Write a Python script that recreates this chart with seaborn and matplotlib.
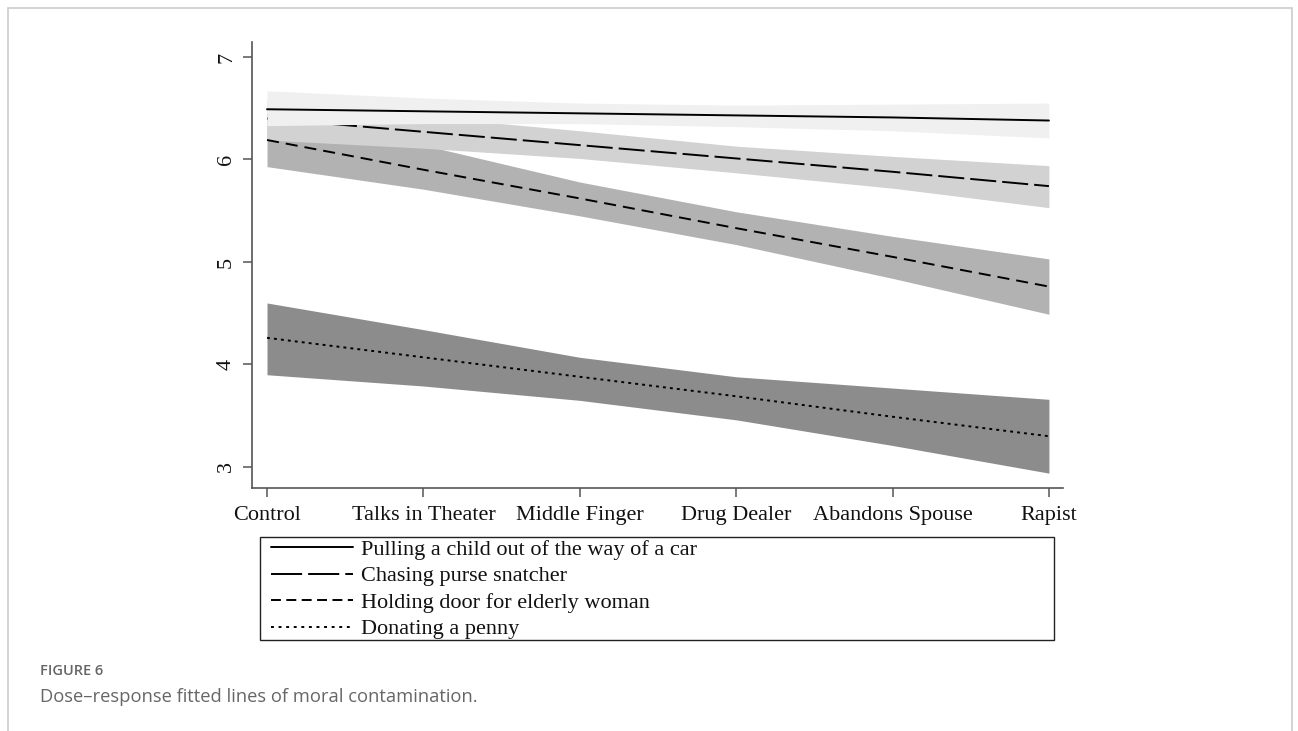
import matplotlib
matplotlib.use("Agg")
import matplotlib.pyplot as plt
from matplotlib.lines import Line2D
from matplotlib.patches import Rectangle
import pandas as pd
import seaborn as sns

# Offender conditions on the x axis
categories = ["Control", "Talks in Theater", "Middle Finger",
              "Drug Dealer", "Abandons Spouse", "Rapist"]
yticks = [3, 4, 5, 6, 7]

# Fitted values with lower / upper confidence limits per good deed
pulling_fit = [6.49, 6.47, 6.45, 6.43, 6.41, 6.38]
pulling_lo = [6.33, 6.35, 6.35, 6.32, 6.28, 6.21]
pulling_hi = [6.67, 6.60, 6.55, 6.53, 6.54, 6.55]

chasing_fit = [6.40, 6.27, 6.14, 6.01, 5.88, 5.74]
chasing_lo = [6.19, 6.11, 6.01, 5.87, 5.72, 5.53]
chasing_hi = [6.58, 6.42, 6.28, 6.13, 6.03, 5.94]

holding_fit = [6.19, 5.90, 5.62, 5.33, 5.05, 4.76]
holding_lo = [5.93, 5.71, 5.45, 5.17, 4.84, 4.49]
holding_hi = [6.45, 6.14, 5.78, 5.49, 5.25, 5.03]

penny_fit = [4.26, 4.07, 3.88, 3.69, 3.49, 3.30]
penny_lo = [3.90, 3.79, 3.65, 3.46, 3.21, 2.94]
penny_hi = [4.60, 4.34, 4.07, 3.88, 3.77, 3.66]

labels = ["Pulling a child out of the way of a car",
          "Chasing purse snatcher",
          "Holding door for elderly woman",
          "Donating a penny"]

rows = []
for lab, fit, lo, hi in zip(labels,
                            [pulling_fit, chasing_fit, holding_fit, penny_fit],
                            [pulling_lo, chasing_lo, holding_lo, penny_lo],
                            [pulling_hi, chasing_hi, holding_hi, penny_hi]):
    for i, cat in enumerate(categories):
        rows.append({"behavior": lab, "pos": i, "condition": cat,
                     "fit": fit[i], "lo": lo[i], "hi": hi[i]})
df = pd.DataFrame(rows)

sns.set_style("ticks")
plt.rcParams["font.family"] = ["Liberation Serif", "DejaVu Serif"]

LW = 1.4
styles = {
    labels[0]: dict(band="#f0f0f0", ls="-", band_z=5, line_z=6),
    labels[1]: dict(band="#d2d2d2", ls=(0, (13.4, 3.1)), band_z=3, line_z=4),
    labels[2]: dict(band="#b2b2b2", ls=(0, (6.2, 3.6)), band_z=2, line_z=6.5),
    labels[3]: dict(band="#8c8c8c", ls=(0, (1.5, 2.1)), band_z=1, line_z=1.5),
}

fig = plt.figure(figsize=(12.98, 7.31), dpi=100)
ax = fig.add_axes([252 / 1298, 1 - 488 / 731, 811 / 1298, 446 / 731])

# bands drawn from the lowest series upward, each fitted line with its band
for lab in [labels[3], labels[2], labels[1], labels[0]]:
    sub = df[df["behavior"] == lab]
    st = styles[lab]
    ax.fill_between(sub["pos"], sub["lo"], sub["hi"], color=st["band"],
                    linewidth=0, zorder=st["band_z"])
    sns.lineplot(data=sub, x="pos", y="fit", ax=ax, color="black",
                 linewidth=LW, linestyle=st["ls"], legend=False)
    ax.lines[-1].set_zorder(st["line_z"])

ax.set_xlim(-0.096, 5.09)
ax.set_ylim(2.795, 7.146)
ax.set_xticks(range(len(categories)))
ax.set_xticklabels(categories)
ax.set_yticks(yticks)
ax.set_yticklabels([str(v) for v in yticks])
ax.set_xlabel("")
ax.set_ylabel("")
sns.despine(ax=ax)
for side in ["left", "bottom"]:
    ax.spines[side].set_color("#555555")
    ax.spines[side].set_linewidth(1.2)
    ax.spines[side].set_zorder(10)
ax.tick_params(axis="both", colors="#555555", length=6.5, width=1.1,
               labelcolor="#111111", labelsize=16)
ax.tick_params(axis="x", pad=6.5)
ax.tick_params(axis="y", labelrotation=90, pad=5)
for t in ax.get_yticklabels():
    t.set_va("center")

handles = [
    Line2D([], [], color="black", lw=LW, ls="-"),
    Line2D([], [], color="black", lw=LW, ls=(0, (16, 3.1))),
    Line2D([], [], color="black", lw=LW, ls=(0, (5.1, 2.8))),
    Line2D([], [], color="black", lw=LW, ls=(0, (1.5, 2.4))),
]
leg = fig.legend(handles, labels, loc="upper left",
                 bbox_to_anchor=(269 / 1298, 1 - 537 / 731),
                 fontsize=16, handlelength=3.7,
                 handletextpad=0.35, borderpad=0.1, labelspacing=0.27,
                 borderaxespad=0, frameon=False)
for txt in leg.get_texts():
    txt.set_color("#111111")
fig.add_artist(Rectangle((260 / 1298, 1 - 640 / 731), 794 / 1298, 103 / 731,
                         transform=fig.transFigure, fill=False,
                         edgecolor="#222222", linewidth=1.0))

# card border and caption
fig.add_artist(Rectangle((8 / 1298, -0.05), 1284 / 1298, 1 - 8 / 731 + 0.05,
                         transform=fig.transFigure, fill=False,
                         edgecolor="#cccccc", linewidth=1.2))
fig.text(40 / 1298, 1 - 671 / 731, "FIGURE 6", family=["Open Sans", "DejaVu Sans"],
         fontsize=10.5, fontweight="semibold", color="#666666", va="center")
fig.text(40 / 1298, 1 - 697 / 731, "Dose\u2013response fitted lines of moral contamination.",
         family=["Open Sans", "DejaVu Sans"], fontsize=13.2, color="#666666",
         va="center")

fig.savefig("out.png", dpi=100)
